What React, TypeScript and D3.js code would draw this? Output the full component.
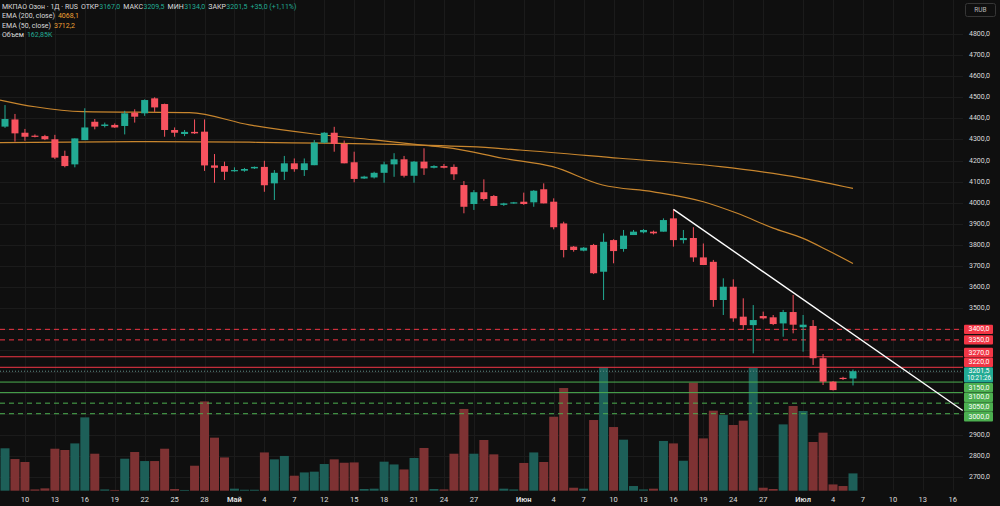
import * as d3 from "d3";

const W = 1000;
const H = 506;

// daily sessions; index 0 is the session labelled "10", the first two are earlier
const firstSession = -2;

const opens = [
  4361, 4395, 4332, 4318, 4316, 4301, 4222, 4182, 4297, 4384,
  4364, 4369, 4364, 4427, 4424, 4495, 4468, 4345, 4326, 4336,
  4337, 4177, 4174, 4151, 4152, 4163, 4170, 4092, 4147, 4187,
  4155, 4178, 4285, 4332, 4279, 4192, 4115, 4120, 4142, 4182,
  4206, 4128, 4195, 4166, 4174, 4170, 4084, 3994, 4050, 4032,
  3990, 3997, 4005, 4002, 4064, 4005, 3902, 3792, 3773, 3800,
  3673, 3823, 3781, 3847, 3860, 3863, 3863, 3926, 3823, 3833,
  3741, 3720, 3539, 3602, 3460, 3420, 3463, 3457, 3428, 3482,
  3410, 3416, 3263, 3152, 3170, 3167,
];
const highs = [
  4463, 4421, 4350, 4324, 4322, 4322, 4247, 4305, 4448, 4397,
  4380, 4376, 4436, 4443, 4490, 4500, 4470, 4357, 4345, 4395,
  4395, 4231, 4195, 4168, 4165, 4172, 4199, 4155, 4222, 4210,
  4210, 4297, 4335, 4360, 4295, 4242, 4128, 4147, 4195, 4235,
  4222, 4198, 4258, 4178, 4184, 4182, 4103, 4060, 4111, 4037,
  4000, 4004, 4048, 4060, 4092, 4021, 3910, 3795, 3790, 3805,
  3855, 3827, 3871, 3871, 3875, 3868, 3926, 3969, 3871, 3884,
  3807, 3729, 3642, 3637, 3547, 3515, 3484, 3468, 3492, 3563,
  3468, 3444, 3283, 3155, 3175, 3209.5,
];
const lows = [
  4355, 4290, 4294, 4310, 4297, 4207, 4168, 4168, 4297, 4348,
  4357, 4355, 4324, 4380, 4412, 4431, 4313, 4313, 4316, 4326,
  4151, 4095, 4108, 4147, 4147, 4160, 4052, 4013, 4108, 4147,
  4127, 4178, 4282, 4242, 4187, 4097, 4113, 4115, 4095, 4123,
  4120, 4095, 4132, 4163, 4163, 4108, 3950, 3966, 4010, 3985,
  3985, 3995, 3990, 3981, 3997, 3874, 3741, 3768, 3770, 3662,
  3539, 3713, 3768, 3847, 3855, 3850, 3863, 3792, 3807, 3720,
  3705, 3507, 3468, 3436, 3397, 3286, 3447, 3420, 3365, 3381,
  3294, 3231, 3136, 3110, 3160, 3134,
];
const closes = [
  4397, 4329, 4313, 4313, 4301, 4214, 4174, 4305, 4357, 4361,
  4371, 4357, 4424, 4408, 4487, 4452, 4345, 4332, 4336, 4329,
  4177, 4166, 4147, 4155, 4160, 4170, 4083, 4142, 4187, 4159,
  4187, 4285, 4332, 4279, 4187, 4113, 4124, 4142, 4182, 4206,
  4128, 4195, 4163, 4174, 4166, 4135, 3981, 4050, 4018, 3985,
  3997, 4002, 3994, 4057, 3997, 3884, 3776, 3776, 3787, 3666,
  3815, 3771, 3844, 3863, 3871, 3855, 3918, 3823, 3833, 3741,
  3705, 3539, 3602, 3452, 3420, 3444, 3452, 3425, 3482, 3422,
  3422, 3263, 3152, 3112, 3166.5, 3201.5,
];
// thousands of shares
const volumes = [
  399, 298, 270, 12, 22, 395, 383, 445, 690, 348,
  12, 7, 301, 364, 279, 279, 395, 16, 7, 235,
  840, 499, 313, 19, 9, 9, 360, 295, 327, 141,
  172, 179, 251, 295, 263, 266, 16, 19, 273, 247,
  200, 308, 402, 16, 12, 348, 769, 348, 477, 342,
  19, 12, 261, 360, 270, 696, 966, 28, 19, 665,
  1160, 599, 480, 44, 12, 19, 468, 445, 282, 1016,
  492, 753, 712, 618, 659, 1155, 28, 16, 624, 797,
  750, 458, 546, 59, 44, 162.85,
];

const ema200Sessions = [-2.5, 12.5, 22.5, 44.6, 49.6, 59.6, 69.7, 78, 83];
const ema200Values = [4285, 4290, 4287, 4266, 4250, 4211, 4171, 4116, 4068.1];
const ema50Sessions = [-2.5, 1, 5.8, 16.5, 22.5, 29, 35, 39.6, 42.9, 47.9, 52.9, 57.9, 63, 68, 71.4, 75, 78, 80.4, 83];
const ema50Values = [4487, 4455, 4432, 4427, 4369, 4326, 4298, 4274, 4258, 4211, 4171, 4084, 4052, 4005, 3950, 3880, 3831, 3776, 3712.2];

// trend line drawn from the local top
const trendSessions = [65, 94];
const trendPrices = [3969, 3015];

const resistanceDashed = [3400, 3350];
const resistanceSolid = [3270, 3220];
const supportSolid = [3150, 3100];
const supportDashed = [3050, 3000];

const tickSessions = [0, 3, 6, 9, 12, 15, 18, 21, 24, 27, 30, 33, 36, 39, 42, 45, 50, 53, 56, 59, 62, 65, 68, 71, 74, 78, 81, 84, 87, 90, 93];
const tickLabels = ["10", "13", "16", "19", "22", "25", "28", "Май", "4", "7", "12", "15", "18", "21", "24", "27", "Июн", "4", "7", "10", "13", "16", "19", "24", "27", "Июл", "4", "7", "10", "13", "16"];
const monthLabels = ["Май", "Июн", "Июл"];

const priceTicks = d3.range(2700, 4801, 100);
const countdown = "10:21:26";

const BG = "#0f0f0f";
const GRID = "#1b1b1b";
const UP = "#22ab94";
const DOWN = "#f7525f";
const VOL_UP = "#1d5f58";
const VOL_DOWN = "#7e3233";
const RES = "#f23645";
const SUP = "#4caf50";
const EMA = "#c8862e";
const TEXT = "#dcdcdc";
const FONT = "Roboto, 'DejaVu Sans', sans-serif";

const fmt = (v: number) => v.toFixed(1).replace(".", ",");

export default function App() {
  const plotRight = 963;
  const paneBottom = 490.7;
  const x = d3.scaleLinear().domain([-2, 83]).range([5, 853]);
  const y = d3.scaleLinear().domain([2700, 4800]).range([477, 34]);
  const vol = d3
    .scaleLinear()
    .domain([0, d3.max(volumes) as number])
    .range([paneBottom, paneBottom - 123.3]);

  const n = closes.length;
  const bars = d3.range(n).map((k) => ({
    s: k + firstSession,
    o: opens[k],
    h: highs[k],
    l: lows[k],
    c: closes[k],
    v: volumes[k],
  }));

  const emaLine = d3
    .line<[number, number]>()
    .x((d) => x(d[0]))
    .y((d) => y(d[1]))
    .curve(d3.curveMonotoneX);
  const ema200 = emaLine(ema200Sessions.map((s, k) => [s, ema200Values[k]]) as [number, number][]);
  const ema50 = emaLine(ema50Sessions.map((s, k) => [s, ema50Values[k]]) as [number, number][]);

  const last = bars[n - 1];
  const prev = bars[n - 2];
  const change = last.c - prev.c;
  const changePct = (change / prev.c) * 100;

  // price labels on the axis, pushed apart around the last-price box
  const boxH = 9.4;
  const gap = 0.3;
  const curTop = y(last.c) - 4;
  const curBottom = curTop + 15.4;
  const above = [...resistanceSolid, ...resistanceDashed].sort((a, b) => a - b);
  const below = [...supportSolid, ...supportDashed].sort((a, b) => b - a);
  const tags: { p: number; cy: number; color: string }[] = [];
  let edge = curTop;
  above.forEach((p) => {
    const cy = Math.min(y(p), edge - gap - boxH / 2);
    tags.push({ p, cy, color: RES });
    edge = cy - boxH / 2;
  });
  edge = curBottom;
  below.forEach((p) => {
    const cy = Math.max(y(p), edge + gap + boxH / 2);
    tags.push({ p, cy, color: SUP });
    edge = cy + boxH / 2;
  });
  const tagTop = d3.min(tags, (t) => t.cy) as number;
  const tagBottom = d3.max(tags, (t) => t.cy) as number;
  const axisTicks = priceTicks.filter((p) => y(p) < tagTop - 9 || y(p) > tagBottom + 9);

  const levelLine = (p: number, color: string, dashed: boolean) => (
    <line
      key={`lvl-${p}`}
      x1={0}
      x2={plotRight}
      y1={y(p)}
      y2={y(p)}
      stroke={color}
      strokeWidth={1}
      strokeDasharray={dashed ? "5,4" : undefined}
    />
  );

  return (
    <svg
      width={W}
      height={H}
      style={{ position: "absolute", left: 0, top: 0, display: "block", background: BG }}
      fontFamily={FONT}
    >
      <rect width={W} height={H} fill={BG} />

      {/* grid */}
      <g stroke={GRID} strokeWidth={1}>
        {tickSessions.map((s) => (
          <line key={`gx-${s}`} x1={Math.round(x(s)) + 0.5} x2={Math.round(x(s)) + 0.5} y1={0} y2={paneBottom} />
        ))}
        {priceTicks.map((p) => (
          <line key={`gy-${p}`} x1={0} x2={plotRight} y1={Math.round(y(p)) + 0.5} y2={Math.round(y(p)) + 0.5} />
        ))}
      </g>

      {/* volume */}
      <g>
        {bars.map((b) => (
          <rect
            key={`v-${b.s}`}
            x={x(b.s) - 4.5}
            y={vol(b.v)}
            width={9}
            height={paneBottom - vol(b.v)}
            fill={b.c >= b.o ? VOL_UP : VOL_DOWN}
          />
        ))}
      </g>

      {/* support / resistance */}
      {resistanceDashed.map((p) => levelLine(p, RES, true))}
      {resistanceSolid.map((p) => levelLine(p, RES, false))}
      {supportSolid.map((p) => levelLine(p, SUP, false))}
      {supportDashed.map((p) => levelLine(p, SUP, true))}

      {/* last price line */}
      <line x1={0} x2={plotRight} y1={y(last.c)} y2={y(last.c)} stroke="#5f8f8a" strokeWidth={1} strokeDasharray="1,2" />

      {/* moving averages */}
      <path d={ema200 ?? ""} fill="none" stroke={EMA} strokeWidth={1.2} />
      <path d={ema50 ?? ""} fill="none" stroke={EMA} strokeWidth={1.2} />

      {/* candles */}
      <g>
        {bars.map((b) => {
          const color = b.c >= b.o ? UP : DOWN;
          const top = y(Math.max(b.o, b.c));
          const bot = y(Math.min(b.o, b.c));
          const cx = x(b.s);
          return (
            <g key={`c-${b.s}`}>
              <line x1={cx} x2={cx} y1={y(b.h)} y2={y(b.l)} stroke={color} strokeWidth={1} />
              <rect x={cx - 3.5} y={top} width={7} height={Math.max(bot - top, 1.2)} fill={color} />
            </g>
          );
        })}
      </g>

      {/* trend line */}
      <line
        x1={x(trendSessions[0])}
        y1={y(trendPrices[0])}
        x2={x(trendSessions[1])}
        y2={y(trendPrices[1])}
        stroke="#ffffff"
        strokeWidth={1.4}
      />

      {/* price axis */}
      <g fontSize={7} fill={TEXT}>
        {axisTicks.map((p) => (
          <text key={`pt-${p}`} x={969} y={y(p)} dominantBaseline="central">
            {fmt(p)}
          </text>
        ))}
      </g>
      <g fontSize={7} fill="#ffffff">
        {tags.map((t) => (
          <g key={`tag-${t.p}`}>
            <rect x={964} y={t.cy - boxH / 2} width={29} height={boxH} fill={t.color} rx={1} />
            <text x={968.5} y={t.cy} dominantBaseline="central">
              {fmt(t.p)}
            </text>
          </g>
        ))}
        <rect x={964} y={curTop} width={29} height={curBottom - curTop} fill={UP} rx={1} />
        <text x={968.5} y={curTop + 4} dominantBaseline="central">
          {fmt(last.c)}
        </text>
        <text x={967} y={curTop + 11} dominantBaseline="central" textLength={24} lengthAdjust="spacingAndGlyphs">
          {countdown}
        </text>
      </g>
      <rect x={965.5} y={3.5} width={30} height={13} rx={2} fill="none" stroke="#363636" />
      <text x={980.5} y={10} fontSize={6.5} fill="#b8b8b8" textAnchor="middle" dominantBaseline="central">
        RUB
      </text>

      {/* time axis */}
      <g fontSize={7.5} fill={TEXT} textAnchor="middle">
        {tickSessions.map((s, k) => (
          <text
            key={`tt-${s}`}
            x={x(s)}
            y={499}
            dominantBaseline="central"
            fontWeight={monthLabels.includes(tickLabels[k]) ? 700 : 400}
          >
            {tickLabels[k]}
          </text>
        ))}
      </g>

      {/* legend */}
      <g fontSize={7} dominantBaseline="central">
        <text x={2} y={7}>
          <tspan fill={TEXT}>МКПАО Озон · 1Д · RUS</tspan>
          <tspan dx={3} fill={TEXT}>ОТКР</tspan>
          <tspan dx={0.5} fill={UP}>{fmt(last.o)}</tspan>
          <tspan dx={3} fill={TEXT}>МАКС</tspan>
          <tspan dx={0.5} fill={UP}>{fmt(last.h)}</tspan>
          <tspan dx={3} fill={TEXT}>МИН</tspan>
          <tspan dx={0.5} fill={UP}>{fmt(last.l)}</tspan>
          <tspan dx={3} fill={TEXT}>ЗАКР</tspan>
          <tspan dx={0.5} fill={UP}>{fmt(last.c)}</tspan>
          <tspan dx={3} fill={UP}>
            {`${change >= 0 ? "+" : ""}${fmt(change)} (${change >= 0 ? "+" : ""}${changePct.toFixed(2).replace(".", ",")}%)`}
          </tspan>
        </text>
        <text x={2} y={16.3}>
          <tspan fill={TEXT}>EMA (200, close)</tspan>
          <tspan dx={3} fill="#f0a035">{fmt(ema200Values[ema200Values.length - 1])}</tspan>
        </text>
        <text x={2} y={26}>
          <tspan fill={TEXT}>EMA (50, close)</tspan>
          <tspan dx={3} fill="#f0a035">{fmt(ema50Values[ema50Values.length - 1])}</tspan>
        </text>
        <text x={2} y={34.5}>
          <tspan fill={TEXT}>Объем</tspan>
          <tspan dx={3} fill={UP}>{`${last.v.toFixed(2).replace(".", ",")}K`}</tspan>
        </text>
      </g>
    </svg>
  );
}
